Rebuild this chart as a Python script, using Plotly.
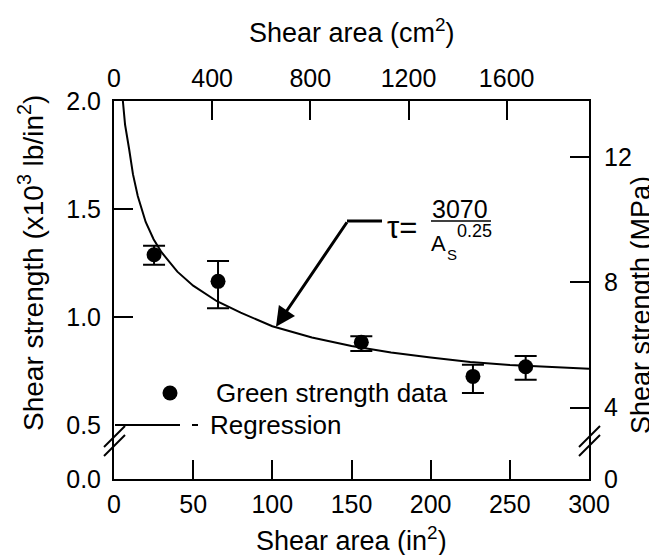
import plotly.graph_objects as go

# ---------------- data ----------------
area_in2 = [25.3, 65.7, 156.2, 226.7, 260.0]
strength_ksi = [1.288, 1.165, 0.883, 0.725, 0.770]
err_plus = [0.042, 0.094, 0.028, 0.054, 0.050]
err_minus = [0.046, 0.125, 0.040, 0.077, 0.060]

reg_area = [5.6, 7, 9.5, 12, 15, 20, 25, 30, 40, 50, 65, 80, 100, 125, 150, 175, 200, 225, 250, 275, 300]
reg_ksi = [2.00, 1.89, 1.78, 1.66, 1.56, 1.44, 1.36, 1.30, 1.21, 1.145, 1.073, 1.02, 0.957,
           0.905, 0.866, 0.836, 0.812, 0.792, 0.778, 0.768, 0.76]

x_ticks = [0, 50, 100, 150, 200, 250, 300]
x2_ticks = [0, 400, 800, 1200, 1600]
y_ticks = [0.5, 1.0, 1.5, 2.0]
y_ticktext = ["0.5", "1.0", "1.5", "2.0"]
y2_ticks = [4, 8, 12]

IN2_TO_CM2 = 6.4516
KSI_TO_MPA = 6.894757

# ---------------- geometry ----------------
W, H = 657, 555
L, R, T, B = 106, 76, 93, 84
PW, PH = W - L - R, H - T - B
BREAK = 54 / PH  # fraction of plot height used by the broken segment


def px(xp):
    return (xp - L) / PW


def py(yp):
    return (H - B - yp) / PH


FONT = "Liberation Sans, Arial, sans-serif"
BLACK = "black"

fig = go.Figure()

fig.add_trace(go.Scatter(
    x=reg_area, y=reg_ksi, mode="lines", line=dict(color=BLACK, width=2),
    name="Regression", showlegend=False, xaxis="x", yaxis="y"))

fig.add_trace(go.Scatter(
    x=area_in2, y=strength_ksi, mode="markers",
    marker=dict(color=BLACK, size=15, symbol="circle"),
    error_y=dict(type="data", array=err_plus, arrayminus=err_minus, symmetric=False,
                 color=BLACK, thickness=2, width=11),
    name="Green strength data", showlegend=False, xaxis="x", yaxis="y"))

# invisible traces to activate secondary axes
fig.add_trace(go.Scatter(x=[None], y=[None], xaxis="x2", yaxis="y2", showlegend=False, hoverinfo="skip"))
fig.add_trace(go.Scatter(x=[None], y=[None], xaxis="x", yaxis="y3", showlegend=False, hoverinfo="skip"))
fig.add_trace(go.Scatter(x=[None], y=[None], xaxis="x", yaxis="y4", showlegend=False, hoverinfo="skip"))

tickfont = dict(family=FONT, size=25, color=BLACK)
common = dict(showgrid=False, zeroline=False, showline=True, linecolor=BLACK, linewidth=2,
              ticks="inside", ticklen=19, tickwidth=1.5, tickcolor=BLACK, tickfont=tickfont)

fig.update_layout(
    width=W, height=H, autosize=False,
    margin=dict(l=L, r=R, t=T, b=B, pad=0),
    paper_bgcolor="white", plot_bgcolor="white",
    font=dict(family=FONT, color=BLACK),
    showlegend=False,
    xaxis=dict(domain=[0, 1], range=[0, 300], anchor="y3", tickvals=x_ticks,
               ticklabelstandoff=2, **common),
    xaxis2=dict(overlaying="x", side="top", anchor="y", range=[0, 300 * IN2_TO_CM2],
                tickvals=x2_ticks, ticklabelstandoff=2, **common),
    yaxis=dict(domain=[BREAK, 1], range=[0.5, 2.0], anchor="x", tickvals=y_ticks,
               ticktext=y_ticktext, ticklabelstandoff=6, **common),
    yaxis2=dict(overlaying="y", side="right", anchor="x",
                range=[0.5 * KSI_TO_MPA, 2.0 * KSI_TO_MPA], tickvals=y2_ticks,
                ticklabelstandoff=8, **common),
    yaxis3=dict(domain=[0, BREAK], range=[0, 1], anchor="x", tickvals=[0], ticktext=["0.0"],
                showgrid=False, zeroline=False, showline=True, linecolor=BLACK, linewidth=2,
                ticks="", tickfont=tickfont, ticklabelstandoff=6),
    yaxis4=dict(overlaying="y3", side="right", anchor="x", range=[0, 1], tickvals=[0],
                ticktext=["0"], showgrid=False, zeroline=False, showline=True,
                linecolor=BLACK, linewidth=2, ticks="", tickfont=tickfont, ticklabelstandoff=8),
)

ann = []
# axis titles
ann.append(dict(text="Shear area (in<sup>2</sup>)", x=px(343), y=py(531), xref="paper", yref="paper",
                showarrow=False, xanchor="center", yanchor="middle", font=dict(size=27)))
ann.append(dict(text="Shear area (cm<sup>2</sup>)", x=px(344), y=py(23), xref="paper", yref="paper",
                showarrow=False, xanchor="center", yanchor="middle", font=dict(size=27)))
ann.append(dict(text="Shear strength (x10<sup>3</sup> lb/in<sup>2</sup>)", x=px(23), y=py(255),
                xref="paper", yref="paper", showarrow=False, textangle=-90,
                xanchor="center", yanchor="middle", font=dict(size=28)))
ann.append(dict(text="Shear strength (MPa)", x=px(633), y=py(297), xref="paper", yref="paper",
                showarrow=False, textangle=-90, xanchor="center", yanchor="middle",
                font=dict(size=27)))

# legend texts
ann.append(dict(text="Green strength data", x=px(206), y=py(385), xref="paper", yref="paper",
                showarrow=False, xanchor="left", yanchor="middle", font=dict(size=26)))
ann.append(dict(text="Regression", x=px(200), y=py(417), xref="paper", yref="paper",
                showarrow=False, xanchor="left", yanchor="middle", font=dict(size=26)))

# equation
ann.append(dict(text="τ=", x=px(377), y=py(219), xref="paper", yref="paper", showarrow=False,
                xanchor="left", yanchor="middle", font=dict(size=31)))
ann.append(dict(text="3070", x=px(452), y=py(201), xref="paper", yref="paper", showarrow=False,
                xanchor="center", yanchor="middle", font=dict(size=25)))
ann.append(dict(text="A", x=px(421), y=py(235), xref="paper", yref="paper", showarrow=False,
                xanchor="left", yanchor="middle", font=dict(size=22)))
ann.append(dict(text="S", x=px(437), y=py(246), xref="paper", yref="paper", showarrow=False,
                xanchor="left", yanchor="middle", font=dict(size=15)))
ann.append(dict(text="0.25", x=px(447), y=py(223), xref="paper", yref="paper", showarrow=False,
                xanchor="left", yanchor="middle", font=dict(size=18)))

# arrow pointing at the curve
ann.append(dict(x=102.3, y=0.955, xref="x", yref="y", text="", showarrow=True,
                ax=72, ay=-106, axref="pixel", ayref="pixel",
                arrowhead=2, arrowsize=1.3, arrowwidth=3, arrowcolor=BLACK, standoff=0))
fig.update_layout(annotations=ann)

shapes = []
# horizontal part of the arrow
shapes.append(dict(type="line", xref="paper", yref="paper", x0=px(339), y0=py(213), x1=px(374), y1=py(213),
                   line=dict(color=BLACK, width=3)))
# fraction bar
shapes.append(dict(type="line", xref="paper", yref="paper", x0=px(423), y0=py(213), x1=px(483), y1=py(213),
                   line=dict(color=BLACK, width=1.5)))
# legend marker and line
shapes.append(dict(type="circle", xref="paper", yref="paper", x0=px(154.5), y0=py(392.5),
                   x1=px(169.5), y1=py(377.5), fillcolor=BLACK, line=dict(color=BLACK, width=0)))
shapes.append(dict(type="line", xref="paper", yref="paper", x0=px(107), y0=py(417), x1=px(172), y1=py(417),
                   line=dict(color=BLACK, width=2)))
shapes.append(dict(type="line", xref="paper", yref="paper", x0=px(184), y0=py(417), x1=px(190), y1=py(417),
                   line=dict(color=BLACK, width=2)))
# axis break marks
for ax_x in (L, W - R):
    for dy in (0, 9):
        shapes.append(dict(type="line", xref="paper", yref="paper",
                           x0=px(ax_x - 10), y0=py(439 + dy), x1=px(ax_x + 11), y1=py(418 + dy),
                           line=dict(color=BLACK, width=2)))
fig.update_layout(shapes=shapes)

fig.write_html("out.html")
